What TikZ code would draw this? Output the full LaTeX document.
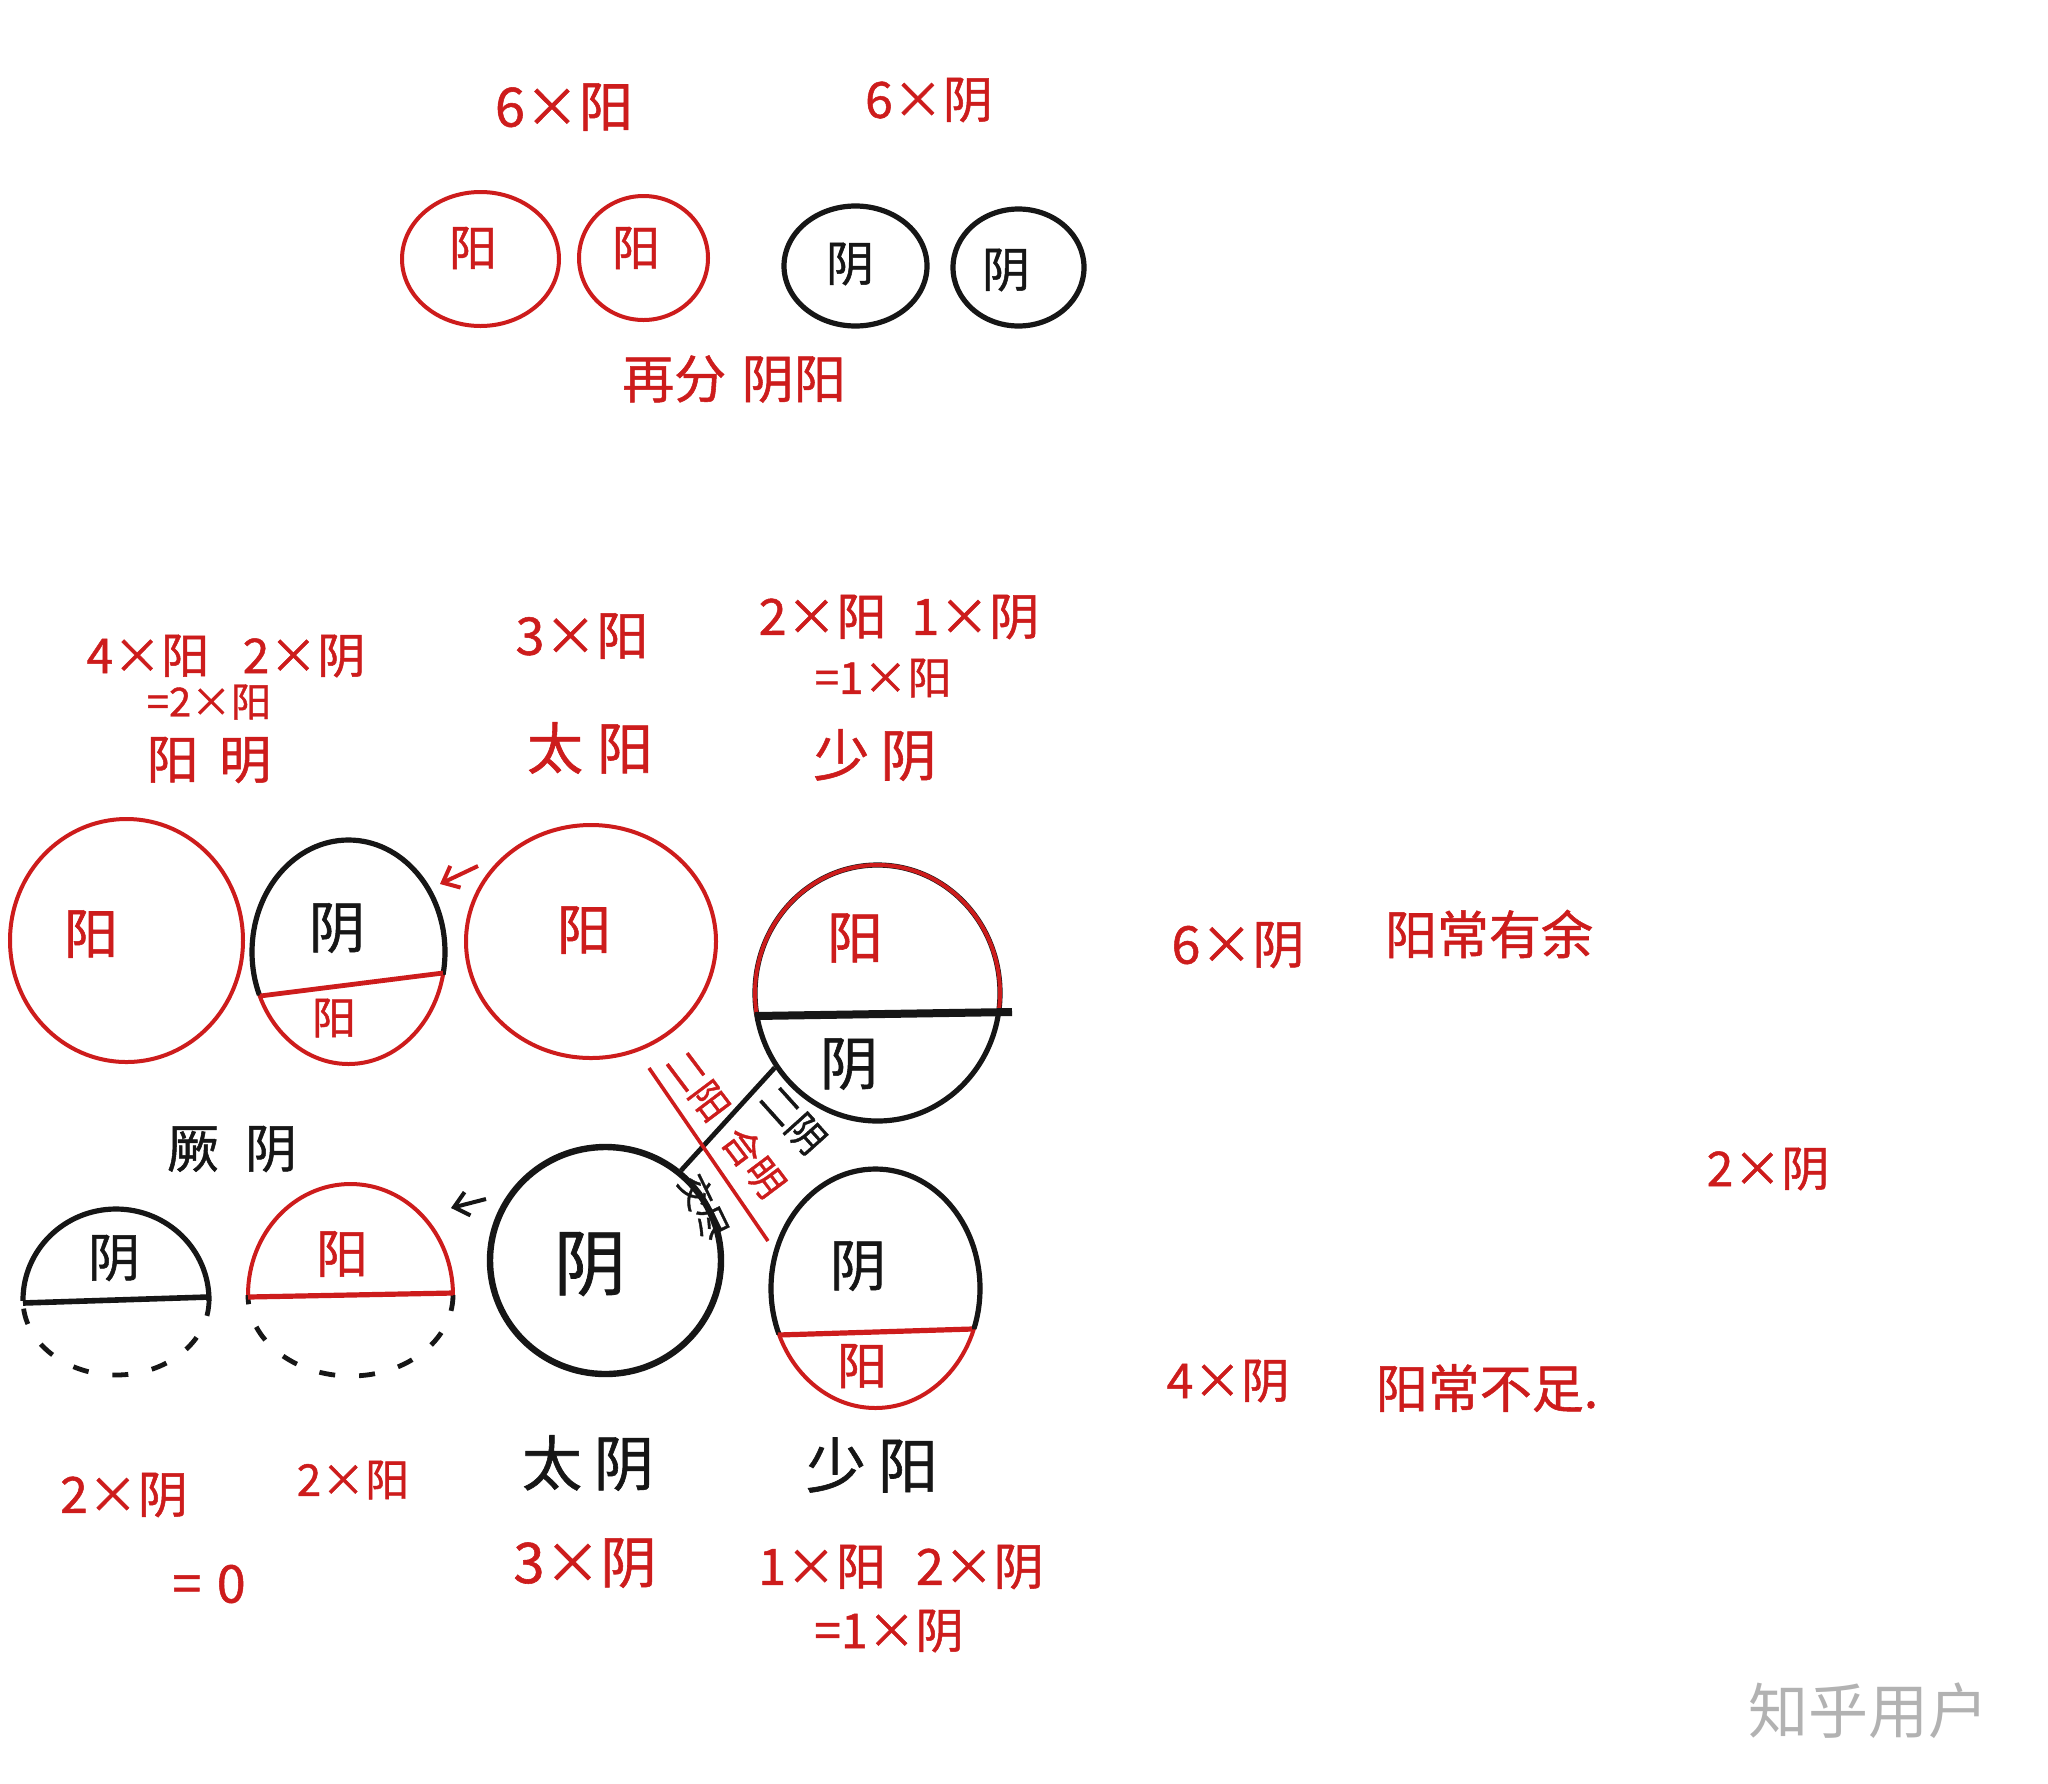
\documentclass[tikz,border=0pt]{standalone}
\usepackage{fontspec}
\newfontfamily\cjk{Noto Sans CJK SC}[FakeBold=1]
\newfontfamily\cjkw{Noto Sans CJK SC}
\usetikzlibrary{shapes.geometric,arrows.meta}
\definecolor{penred}{RGB}{205,28,28}
\definecolor{ink}{RGB}{22,22,22}
\definecolor{wm}{RGB}{178,178,178}
\begin{document}
\begin{tikzpicture}[x=0.5pt,y=-0.5pt,
  ring/.style={ellipse, draw, inner sep=0pt, line width=2pt},
  rr/.style={ring, draw=penred},
  bb/.style={ring, draw=ink, line width=2.6pt},
  lab/.style={inner sep=0pt, font=\cjk\fontsize{#1}{#1}\selectfont},
  rt/.style={lab=#1, text=penred},
  bt/.style={lab=#1, text=ink},
  dashes/.style={draw=ink, line width=2.4pt, dash pattern=on 8pt off 12pt},
  arr/.style={line width=2pt, -{Straight Barb[length=7pt,width=12pt]}},
]
\useasboundingbox[fill=white] (0,0) rectangle (2048,1783);

% ---------------- top row ----------------
\node[rt=27] (t6y) at (564,107) {6×阳};
\node[rt=25] (t6i) at (929,100) {6×阴};
\node[rr, minimum width=78.5pt, minimum height=67pt] (c1) at (480.5,259) {};
\node[rr, minimum width=64.5pt, minimum height=62pt] (c2) at (643.5,258) {};
\node[bb, minimum width=71.5pt, minimum height=60pt] (c3) at (855.5,266) {};
\node[bb, minimum width=65.5pt, minimum height=58.5pt] (c4) at (1018.5,267.5) {};
\node[rt=24] (c1t) at (473,248) {阳};
\node[rt=24] (c2t) at (636,248) {阳};
\node[bt=24] (c3t) at (850,264) {阴};
\node[bt=24] (c4t) at (1006,270) {阴};
\node[rt=26] (tzf) at (734,379) {再分\hspace{0.3em}阴阳};

% ---------------- middle labels ----------------
\node[rt=24] (tym1) at (226,656) {4×阳\hspace{0.7em}2×阴};
\node[rt=20] (tym2) at (209,702) {=2×阳};
\node[rt=26] (tym3) at (209,760) {阳\hspace{0.4em}明};
\node[rt=26] (tty1) at (582,636) {3×阳};
\node[rt=28] (tty2) at (590,748) {太\hspace{0.25em}阳};
\node[rt=25] (tsy1) at (899,617) {2×阳\hspace{0.5em}1×阴};
\node[rt=22] (tsy2) at (883,678) {=1×阳};
\node[rt=28] (tsy3) at (875,755) {少\hspace{0.2em}阴};

% ---------------- middle circles ----------------
% A: yang ming, whole red
\node[rr, minimum width=116.5pt, minimum height=121.5pt] (cA) at (126.5,940.5) {};
\node[rt=27] (cAt) at (91,934) {阳};
% B: black top, red bottom
\node[rr, minimum width=96.5pt, minimum height=112pt] (cB) at (348.5,952) {};
\begin{scope}
  \clip (200,780) -- (520,780) -- (520,966.6) -- (200,1002) -- cycle;
  \node[bb, minimum width=96.5pt, minimum height=112pt] at (348.5,952) {};
\end{scope}
\draw[penred, line width=2.4pt] (260,996) -- (443,973);
\node[bt=28] (cBt1) at (337,928) {阴};
\node[rt=22] (cBt2) at (334,1018) {阳};
% C: tai yang, whole red
\node[rr, minimum width=125pt, minimum height=116.5pt] (cC) at (591,941.5) {};
\node[rt=27] (cCt) at (584,930) {阳};
% D: shao yin, red top, black bottom
\node[bb, minimum width=122.5pt, minimum height=128pt] (cD) at (877.5,993) {};
\begin{scope}
  \clip (700,800) rectangle (1100,1014);
  \node[rr, minimum width=122.5pt, minimum height=128pt] at (877.5,993) {};
\end{scope}
\draw[ink, line width=4pt] (755,1016) -- (1012,1012);
\node[rt=28] (cDt1) at (855,938) {阳};
\node[bt=29] (cDt2) at (849,1064) {阴};

% arrow C -> B
\coordinate (a1s) at (478,866);
\coordinate (a1e) at (440,884);
\draw[penred, arr] (a1s) -- (a1e);

% ---------------- jue yin ----------------
\node[bt=26] (tjy) at (232,1149) {厥\hspace{0.5em}阴};

% half E (black top, dashed bottom)
\coordinate (hE) at (116,1300);
\begin{scope}
  \clip (0,1150) rectangle (260,1300);
  \draw[ink, line width=2.6pt] (hE) ellipse [x radius=93, y radius=91];
\end{scope}
\begin{scope}
  \clip (0,1300) rectangle (260,1430);
  \draw[dashes] (hE) ellipse [x radius=93, y radius=75];
\end{scope}
\draw[ink, line width=2.8pt] (23,1303) -- (209,1297);
\node[bt=26] (hEt) at (114,1258) {阴};

% half F (red top, dashed bottom)
\coordinate (hF) at (350.5,1295);
\begin{scope}
  \clip (230,1150) rectangle (480,1295);
  \draw[penred, line width=2pt] (hF) ellipse [x radius=102.5, y radius=111];
\end{scope}
\begin{scope}
  \clip (230,1295) rectangle (480,1430);
  \draw[dashes] (hF) ellipse [x radius=102.5, y radius=81];
\end{scope}
\draw[penred, line width=2.6pt] (248,1297) -- (453,1293);
\node[rt=26] (hFt) at (342,1254) {阳};

% arrow G -> F
\coordinate (a2s) at (486,1199);
\coordinate (a2e) at (451,1208);
\draw[ink, arr] (a2s) -- (a2e);

% G: tai yin, whole black
\node[bb, line width=3.2pt, minimum width=115.5pt, minimum height=113.5pt] (cG) at (605.5,1260.5) {};
\node[bt=36] (cGt) at (590,1264) {阴};

% H: shao yang, black top, red bottom
\node[rr, minimum width=104.5pt, minimum height=119.5pt] (cH) at (875.5,1288.5) {};
\begin{scope}
  \clip (740,1100) -- (1020,1100) -- (1020,1328) -- (740,1336) -- cycle;
  \node[bb, minimum width=104.5pt, minimum height=119.5pt] at (875.5,1288.5) {};
\end{scope}
\draw[penred, line width=2.6pt] (778,1335) -- (972,1329);
\node[bt=28] (cHt1) at (858,1266) {阴};
\node[rt=25] (cHt2) at (862,1366) {阳};

% ---------------- central connectors ----------------
\draw[ink, line width=2.4pt] (cD.216) -- (cG.50);
\coordinate (rl1) at (649,1068);
\coordinate (rl2) at (768,1241);
\draw[penred, line width=1.8pt] (rl1) -- (rl2);
\node[rt=19, rotate=-53] (t2y) at (698,1086) {二阳};
\node[rt=19, rotate=-53] (thm) at (754,1162) {合明};
\node[bt=19, rotate=-48] (t2i) at (793,1120) {二阴};
\node[bt=17, rotate=-64] (tjj) at (704,1207) {交尽};

% ---------------- bottom labels ----------------
\node[rt=25] (tb1) at (124,1495) {2×阴};
\node[rt=22] (tb2) at (353,1480) {2×阳};
\node[rt=26] (tb3) at (209,1584) {=\hspace{0.3em}0};
\node[bt=30] (tb4) at (588,1463) {太\hspace{0.2em}阴};
\node[rt=28] (tb5) at (585,1563) {3×阴};
\node[bt=30] (tb6) at (872,1465) {少\hspace{0.2em}阳};
\node[rt=25] (tb7) at (901,1567) {1×阳\hspace{0.6em}2×阴};
\node[rt=24] (tb8) at (889,1631) {=1×阴};

% ---------------- right labels ----------------
\node[rt=26] (tr1) at (1238,945) {6×阴};
\node[rt=26] (tr2) at (1489,934) {阳常有余};
\node[rt=24] (tr3) at (1768,1169) {2×阴};
\node[rt=24] (tr4) at (1228,1381) {4×阴};
\node[rt=26] (tr5) at (1487,1388) {阳常不足.};

% watermark
\node[inner sep=0pt, text=wm, font=\cjkw\fontsize{30}{30}\selectfont] (wmk) at (1868,1711) {知乎用户};
\end{tikzpicture}
\end{document}
